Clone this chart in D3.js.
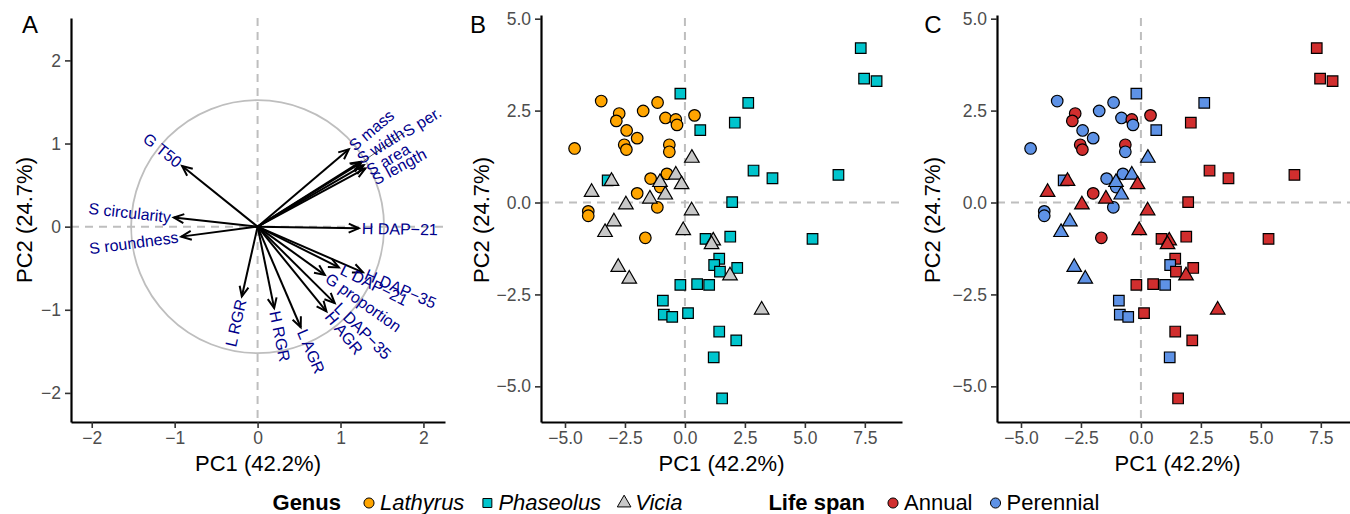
<!DOCTYPE html>
<meta charset="utf-8">
<script src="https://d3js.org/d3.v7.min.js"></script>
<style>
  body { margin: 0; background: #fff; }
  text { font-family: "Liberation Sans", Arial, sans-serif; }
</style>
<div id="chart"></div>
<script>

// variable loadings (panel A)
var varNames = ["G T50", "S circularity", "S roundness", "S mass", "S width", "S per.", "S area", "S length",
                "H DAP\u221221", "H DAP\u221235", "L DAP\u221221", "G proportion", "L DAP\u221235", "H AGR", "L AGR", "H RGR", "L RGR"];
var varPC1 = [-0.91, -1.01, -0.92, 1.10, 1.24, 1.25, 1.28, 1.30, 1.22, 1.27, 0.98, 0.81, 0.93, 0.83, 0.52, 0.20, -0.19];
var varPC2 = [0.73, 0.11, -0.12, 0.93, 0.78, 0.77, 0.74, 0.70, -0.02, -0.55, -0.49, -0.58, -0.92, -1.02, -1.21, -0.98, -0.84];

// individual scores (panels B, C)
var lathPC1 = [-3.49, -2.74, -2.86, -1.74, -1.14, -0.81, -0.38, -0.33, 0.40, -2.43, -1.99, -2.53, -2.44, -0.65, -0.65, -4.60, -1.43, -0.75, -1.03, -1.99, -1.15, -4.03, -4.03, -1.65];
var lathPC2 = [2.76, 2.42, 2.22, 2.49, 2.72, 2.30, 2.26, 2.11, 2.37, 1.96, 1.75, 1.57, 1.44, 1.57, 1.38, 1.47, 0.65, 0.78, 0.42, 0.25, -0.13, -0.24, -0.36, -0.96];
var lathSpan = ["P","A","A","P","P","P","A","P","A","P","P","A","A","A","P","P","P","P","P","A","P","P","P","A"];

var phasPC1 = [7.33, 7.47, 7.99, -0.19, 2.64, 2.08, 0.64, 2.86, 3.65, 6.40, 1.97, -3.22, 0.86, 1.89, 5.32, 1.43, 1.22, 1.46, 2.18, -0.19, 0.51, 1.01, -0.92, -0.88, -0.53, 0.13, 1.43, 2.14, 1.20, 1.55];
var phasPC2 = [4.20, 3.37, 3.30, 2.96, 2.71, 2.17, 1.97, 0.87, 0.66, 0.75, 0.01, 0.60, -0.99, -0.93, -0.99, -1.53, -1.70, -1.88, -1.78, -2.24, -2.22, -2.24, -2.67, -3.05, -3.11, -3.01, -3.51, -3.75, -4.21, -5.33];
var phasSpan = ["A","A","A","P","P","A","P","A","A","A","A","P","A","A","A","A","P","A","A","A","A","P","P","P","P","A","A","A","P","A"];

var viciPC1 = [0.29, -3.06, -3.89, -0.38, -1.04, -0.14, -0.82, -1.46, -2.46, 0.28, -2.96, -3.33, -0.07, 1.18, 1.11, -2.78, -2.32, 1.88, 3.20];
var viciPC2 = [1.21, 0.58, 0.28, 0.75, 0.55, 0.49, 0.21, 0.10, -0.06, -0.22, -0.52, -0.81, -0.76, -1.04, -1.14, -1.76, -2.08, -1.99, -2.92];
var viciSpan = ["P","A","A","P","P","A","P","A","A","A","P","P","A","A","A","P","P","A","A"];

var genusNames = ["Lathyrus", "Phaseolus", "Vicia"];
var spanNames = ["Annual", "Perennial"];
var xTitle = "PC1 (42.2%)", yTitle = "PC2 (24.7%)";

// build one table from the arrays
var points = [];
function addGenus(g, a, b, s) {
  a.forEach(function(v, i) {
    points.push({genus: g, pc1: v, pc2: b[i], span: s[i] == "A" ? "Annual" : "Perennial"});
  });
}
addGenus("Lathyrus", lathPC1, lathPC2, lathSpan);
addGenus("Phaseolus", phasPC1, phasPC2, phasSpan);
addGenus("Vicia", viciPC1, viciPC2, viciSpan);

var genusFill = d3.scaleOrdinal().domain(genusNames).range(["#FFA500", "#00C5CD", "#C8C8C8"]);
var spanFill = d3.scaleOrdinal().domain(spanNames).range(["#D12E2E", "#5E92E6"]);
var genusShape = d3.scaleOrdinal().domain(genusNames).range([d3.symbolCircle, d3.symbolSquare, d3.symbolTriangle]);
var genusSize = d3.scaleOrdinal().domain(genusNames).range([105, 112, 92]);

var W = 1350, H = 514;
var svg = d3.select("#chart").append("svg")
    .attr("width", W).attr("height", H);

var pTop = 18, pBottom = 422;

function zeroLines(g, x, y, left, right) {
  g.append("line").attr("x1", x(0)).attr("x2", x(0)).attr("y1", pTop).attr("y2", pBottom)
    .attr("stroke", "#BEBEBE").attr("stroke-width", 2).attr("stroke-dasharray", "8,6");
  g.append("line").attr("x1", left).attr("x2", right).attr("y1", y(0)).attr("y2", y(0))
    .attr("stroke", "#BEBEBE").attr("stroke-width", 2).attr("stroke-dasharray", "8,6");
}

function drawAxes(g, x, y, left, right, xticks, yticks, fmt, titleX, letter, letterX) {
  var xa = g.append("g").attr("transform", "translate(0," + pBottom + ")")
    .call(d3.axisBottom(x).tickValues(xticks).tickFormat(fmt).tickSize(6).tickSizeOuter(0).tickPadding(4));
  var ya = g.append("g").attr("transform", "translate(" + left + ",0)")
    .call(d3.axisLeft(y).tickValues(yticks).tickFormat(fmt).tickSize(6).tickSizeOuter(0).tickPadding(4));
  [xa, ya].forEach(function(a) {
    a.select(".domain").attr("stroke", "#000").attr("stroke-width", 2.2);
    a.selectAll(".tick line").attr("stroke", "#333").attr("stroke-width", 1.6);
    a.selectAll(".tick text").attr("fill", "#4D4D4D").style("font-size", "17.5px")
      .style("font-family", "'Liberation Sans', Arial, sans-serif");
  });
  g.append("text").attr("x", (left + right) / 2).attr("y", 471).attr("text-anchor", "middle")
    .style("font-size", "22px").text(xTitle);
  g.append("text").attr("transform", "translate(" + titleX + "," + ((pTop + pBottom) / 2) + ") rotate(-90)")
    .attr("text-anchor", "middle").attr("dy", "0.35em").style("font-size", "22px").text(yTitle);
  g.append("text").attr("x", letterX).attr("y", 33).attr("text-anchor", "middle")
    .style("font-size", "24px").text(letter);
}

// ---------- panel A: variables ----------
var gA = svg.append("g");
var xA = d3.scaleLinear().domain([-2.25, 2.26]).range([71, 445]);
var yA = d3.scaleLinear().domain([-2.35, 2.51]).range([pBottom, pTop]);
zeroLines(gA, xA, yA, 71, 445);
gA.append("circle").attr("cx", xA(0)).attr("cy", yA(0)).attr("r", xA(1.525) - xA(0))
  .attr("fill", "none").attr("stroke", "#BEBEBE").attr("stroke-width", 1.8);

// small label shifts where the labels were pushed apart
var nudge = {"S width": [-2, -2], "S area": [4, 6], "S length": [8, 12], "S per.": [43, -30]};

var loads = varNames.map(function(n, i) { return {name: n, pc1: varPC1[i], pc2: varPC2[i]}; });
loads.forEach(function(d) {
  var x0 = xA(0), y0 = yA(0), x1 = xA(d.pc1), y1 = yA(d.pc2);
  var th = Math.atan2(y1 - y0, x1 - x0), L = 11, a = 0.42;
  gA.append("line").attr("x1", x0).attr("y1", y0).attr("x2", x1).attr("y2", y1)
    .attr("stroke", "#000").attr("stroke-width", 2);
  gA.append("path")
    .attr("d", "M" + (x1 - L * Math.cos(th - a)) + "," + (y1 - L * Math.sin(th - a)) +
               "L" + x1 + "," + y1 +
               "L" + (x1 - L * Math.cos(th + a)) + "," + (y1 - L * Math.sin(th + a)))
    .attr("fill", "none").attr("stroke", "#000").attr("stroke-width", 2);
});
loads.forEach(function(d) {
  var x0 = xA(0), y0 = yA(0), x1 = xA(d.pc1), y1 = yA(d.pc2);
  var th = Math.atan2(y1 - y0, x1 - x0);
  var ang = -Math.atan(d.pc2 / d.pc1) * 180 / Math.PI;
  var lx = x1 + 3 * Math.cos(th), ly = y1 + 3 * Math.sin(th);
  var nd = nudge[d.name];
  if (nd) {
    lx = x1 + nd[0]; ly = y1 + nd[1];
    if (d.name == "S per.") {
      gA.append("line").attr("x1", x1).attr("y1", y1).attr("x2", lx).attr("y2", ly)
        .attr("stroke", "#000").attr("stroke-width", 0.6);
    }
  }
  gA.append("text").attr("transform", "translate(" + lx + "," + ly + ") rotate(" + ang + ")")
    .attr("text-anchor", d.pc1 > 0 ? "start" : "end").attr("dy", "0.35em")
    .attr("fill", "#00008B").style("font-size", "16px").text(d.name);
});
drawAxes(gA, xA, yA, 71, 445, [-2, -1, 0, 1, 2], [-2, -1, 0, 1, 2], d3.format("d"), 24, "A", 30);

// ---------- panels B and C: individuals ----------
function scatter(left, right, fillFn, titleX, letter, letterX) {
  var g = svg.append("g");
  var x = d3.scaleLinear().domain([-6.0, 9.05]).range([left, right]);
  var y = d3.scaleLinear().domain([-5.97, 5.1]).range([pBottom, 15]);
  zeroLines(g, x, y, left, right);
  g.selectAll("path.pt").data(points).enter().append("path")
    .attr("class", "pt")
    .attr("transform", function(d) { return "translate(" + x(d.pc1) + "," + y(d.pc2) + ")"; })
    .attr("d", function(d) { return d3.symbol().type(genusShape(d.genus)).size(genusSize(d.genus))(); })
    .attr("fill", fillFn).attr("stroke", "#000").attr("stroke-width", 1.2);
  drawAxes(g, x, y, left, right, [-5, -2.5, 0, 2.5, 5, 7.5], [-5, -2.5, 0, 2.5, 5], d3.format(".1f"), titleX, letter, letterX);
}
scatter(541, 902, function(d) { return genusFill(d.genus); }, 481, "B", 478);
scatter(997, 1358, function(d) { return spanFill(d.span); }, 932, "C", 933);

// ---------- legend ----------
var leg = svg.append("g");
var cx = 0, ly = 502;
function legText(t, bold, italic) {
  var e = leg.append("text").attr("x", cx).attr("y", ly).attr("dy", "0.35em")
    .style("font-size", "22px").style("font-weight", bold ? "bold" : "normal")
    .style("font-style", italic ? "italic" : "normal").text(t);
  cx += e.node().getComputedTextLength();
}
function legSym(shape, size, fill) {
  leg.append("path").attr("transform", "translate(" + cx + "," + (ly + 1) + ")")
    .attr("d", d3.symbol().type(shape).size(size)())
    .attr("fill", fill).attr("stroke", "#000").attr("stroke-width", 1);
}
legText("Genus", true, false);
genusNames.forEach(function(n, i) {
  cx += i == 0 ? 28 : 23;
  legSym(genusShape(n), 80, genusFill(n));
  cx += 11;
  legText(n, false, true);
});
cx += 86;
legText("Life span", true, false);
spanNames.forEach(function(n, i) {
  cx += i == 0 ? 28 : 23;
  legSym(d3.symbolCircle, 80, spanFill(n));
  cx += 11;
  legText(n, false, false);
});
var bw = cx;
leg.attr("transform", "translate(" + (686 - bw / 2) + ",0)");

</script>
